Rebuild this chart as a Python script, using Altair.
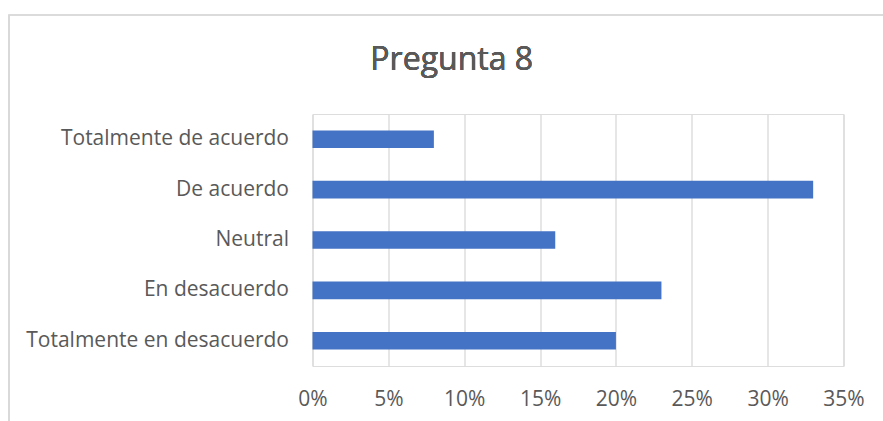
import altair as alt
import pandas as pd

categories = ["Totalmente de acuerdo", "De acuerdo", "Neutral", "En desacuerdo", "Totalmente en desacuerdo"]
values = [0.08, 0.33, 0.16, 0.23, 0.20]
ticks = [0, 0.05, 0.10, 0.15, 0.20, 0.25, 0.30, 0.35]
title_text = "Pregunta 8"

df = pd.DataFrame({"cat": categories, "val": values})

FONT = "Open Sans"
TXT = "#595959"

bars = alt.Chart(df).mark_bar(color="#4472C4").encode(
    x=alt.X("val:Q", scale=alt.Scale(domain=[0, 0.35], nice=False),
            axis=alt.Axis(values=ticks, format=".0%", title=None, domain=False, ticks=False,
                          grid=True, gridColor="#d9d9d9", gridWidth=1.3, labelFlush=False,
                          labelFont=FONT, labelFontSize=21, labelColor=TXT,
                          labelBaseline="alphabetic", labelPadding=39)),
    y=alt.Y("cat:N", sort=categories,
            scale=alt.Scale(paddingInner=0.65, paddingOuter=0.325),
            axis=alt.Axis(title=None, domain=False, ticks=False, grid=False,
                          labelFont=FONT, labelFontSize=21, labelColor=TXT,
                          labelPadding=24, labelLimit=400)),
)

frame = alt.Chart(df).mark_rect(fill=None, stroke="#d9d9d9", strokeWidth=1.2).encode(
    x=alt.value(-303.5), x2=alt.value(700), y=alt.value(-99), y2=alt.value(600)
)

title = alt.Chart(df).mark_text(font=FONT, fontSize=32, color=TXT, align="center",
                                baseline="alphabetic").encode(
    x=alt.value(139.2), y=alt.value(-44), text=alt.value(title_text)
)

chart = alt.layer(frame, bars, title).properties(
    width=531, height=252,
    autosize=alt.AutoSizeParams(type="none"),
    padding={"left": 312.5, "top": 114, "right": 39.5, "bottom": 55},
).configure_view(stroke=None).configure(background="white")

chart.save("out.html", embed_options={"renderer": "svg", "actions": False})
